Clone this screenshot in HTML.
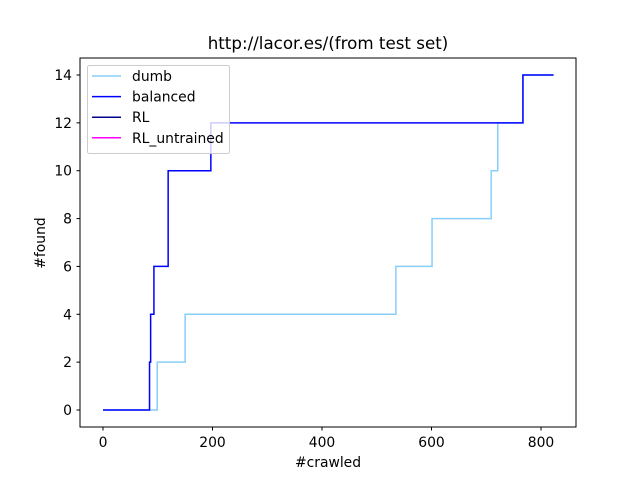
<!DOCTYPE html>
<html><head><meta charset="utf-8"><style>
body{margin:0;background:#fff}
svg text{font-family:"DejaVu Sans","Liberation Sans",sans-serif;fill:#000}
</style></head><body>
<svg id="c" width="640" height="480" xmlns="http://www.w3.org/2000/svg">
<rect width="640" height="480" fill="#fff"/>
</svg>
<script>
const dumbX=[0,99,150,535,601,709,721,767,823];
const dumbY=[0,2,4,6,8,10,12,14,14];
const balancedX=[0,85,87,93,119,197,767,823];
const balancedY=[0,2,4,6,10,12,14,14];
const rlX=[];const rlY=[];
const rluX=[];const rluY=[];
const xTicks=[0,200,400,600,800];
const yTicks=[0,2,4,6,8,10,12,14];
const seriesNames=["dumb","balanced","RL","RL_untrained"];
const seriesColors=["#87cefa","#0000ff","#00008b","#ff00ff"];

const NS="http://www.w3.org/2000/svg";
const svg=document.getElementById('c');
const L=80,R=576,T=58,B=427;
const sx=v=>103+v*(541-103)/800;
const sy=v=>410-v*(410-75)/14;
function el(t,a,p){const e=document.createElementNS(NS,t);for(const k in a)e.setAttribute(k,a[k]);(p||svg).appendChild(e);return e;}

function stepPath(xs,ys){if(!xs.length)return"";let d="M"+sx(xs[0])+","+sy(ys[0]);for(let i=1;i<xs.length;i++){d+=" L"+sx(xs[i])+","+sy(ys[i-1])+" L"+sx(xs[i])+","+sy(ys[i]);}return d;}
const data=[[dumbX,dumbY],[balancedX,balancedY],[rlX,rlY],[rluX,rluY]];
data.forEach((s,i)=>{const d=stepPath(s[0],s[1]);if(!d)return;const p=el('path',{d:d,fill:'none',stroke:seriesColors[i],'stroke-width':1.5});

});

const frame=el('rect',{x:L,y:T,width:R-L,height:B-T,fill:'none',stroke:'#000','stroke-width':1});



xTicks.forEach(v=>{const x=sx(v);el('line',{x1:x,x2:x,y1:B,y2:B+3.5,stroke:'#000'});
const t=el('text',{x:x,y:B+20,'font-size':13.9,'text-anchor':'middle'});t.textContent=v;

});
yTicks.forEach(v=>{const y=sy(v);el('line',{x1:L,x2:L-3.5,y1:y,y2:y,stroke:'#000'});
const t=el('text',{x:L-8,y:y+5,'font-size':13.9,'text-anchor':'end'});t.textContent=v;

});

let t=el('text',{x:328,y:49,'font-size':16.7,'text-anchor':'middle'});t.textContent="http://lacor.es/(from test set)";


t=el('text',{x:328,y:467,'font-size':13.9,'text-anchor':'middle'});t.textContent="#crawled";


t=el('text',{x:0,y:0,'font-size':13.9,'text-anchor':'middle',transform:'translate(45,243) rotate(-90)'});t.textContent="#found";



const lg=el('g',{});


el('rect',{x:87.5,y:65.5,width:142,height:88,rx:2,fill:'#fff','fill-opacity':0.8,stroke:'#ccc'},lg);
seriesNames.forEach((n,i)=>{const y=76+i*20.6;
el('line',{x1:92,x2:121,y1:y,y2:y,stroke:seriesColors[i],'stroke-width':1.5},lg);
const tx=el('text',{x:132,y:y+5,'font-size':13.9},lg);tx.textContent=n;

});
</script>
</body></html>
